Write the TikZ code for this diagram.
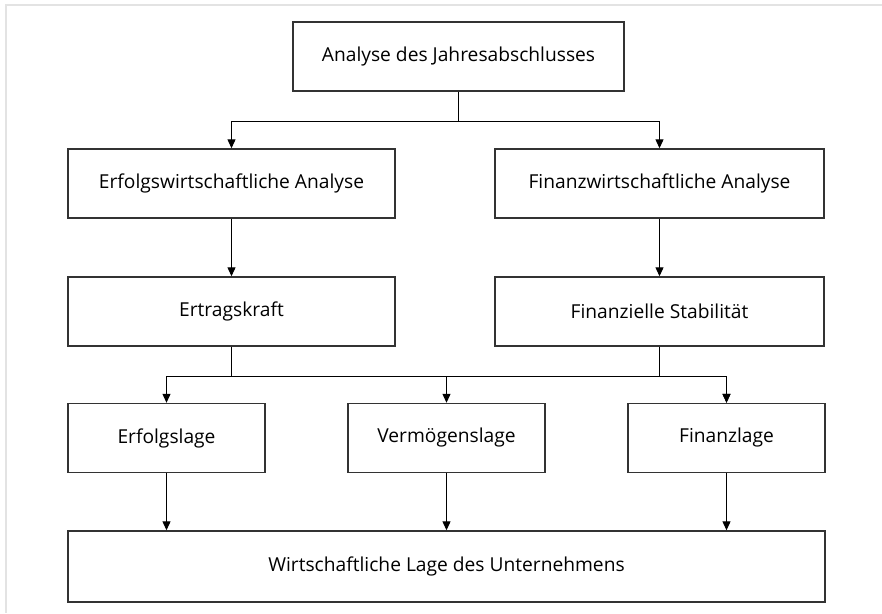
\documentclass[tikz,border=0pt]{standalone}
\usepackage{fontspec}
\setmainfont{Open Sans}
\usetikzlibrary{arrows.meta}
\definecolor{framegray}{HTML}{E3E3E3}
\definecolor{boxline}{HTML}{333333}
\begin{document}
\begin{tikzpicture}[x=1pt, y=-1pt,
    box/.style={draw=boxline, line width=1.4pt, minimum height=69pt, inner sep=0pt,
        font=\fontsize{19.2}{23}\selectfont},
    arr/.style={-{Triangle[length=9pt,width=8pt]}, line width=1.1pt},
    link/.style={line width=1.1pt}]
        % Page margins and light frame
        \useasboundingbox (0,0) rectangle (882,613);
        \draw[framegray, line width=2pt] (6,613) -- (6,5) -- (882,5);

        % Boxes
        \node[box, minimum width=331pt] (jahres) at (458.5,56.5) {Analyse des Jahresabschlusses};
        \node[box, minimum width=327pt] (erfolg) at (231.5,183.5) {Erfolgswirtschaftliche Analyse};
        \node[box, minimum width=329pt] (finanz) at (659.5,183.5) {Finanzwirtschaftliche Analyse};
        \node[box, minimum width=327pt] (ertrag) at (231.5,311.5) {Ertragskraft};
        \node[box, minimum width=329pt] (stabil) at (659.5,311.5) {Finanzielle Stabilität};
        \node[box, minimum width=197pt] (erfolgslage) at (166.5,438) {Erfolgslage};
        \node[box, minimum width=197pt] (vermoegen) at (446.5,438) {Vermögenslage};
        \node[box, minimum width=197pt] (finanzlage) at (726.5,438) {Finanzlage};
        \node[box, minimum width=757pt, minimum height=71pt] (lage) at (446.5,566.5) {Wirtschaftliche Lage des Unternehmens};

        % Junctions
        \coordinate (split) at (458.5,121.5);
        \coordinate (bus) at (231.5,376.5);

        % Top split
        \draw[link] (jahres.south) -- (split);
        \draw[arr] (split) -| (erfolg.north);
        \draw[arr] (split) -| (finanz.north);

        % Second level
        \draw[arr] (erfolg) -- (ertrag);
        \draw[arr] (finanz) -- (stabil);

        % Bus to the three Lagen
        \draw[link] (ertrag.south) -- (bus);
        \foreach \n in {erfolgslage,vermoegen,finanzlage} {
            \draw[arr] (bus) -| (\n.north);
        }
        \draw[arr] (stabil.south) -- (stabil.south |- bus) -| (finanzlage.north);

        % Into the overall result
        \foreach \n in {erfolgslage,vermoegen,finanzlage} {
            \draw[arr] (\n.south) -- (\n.south |- lage.north);
        }
\end{tikzpicture}
\end{document}
